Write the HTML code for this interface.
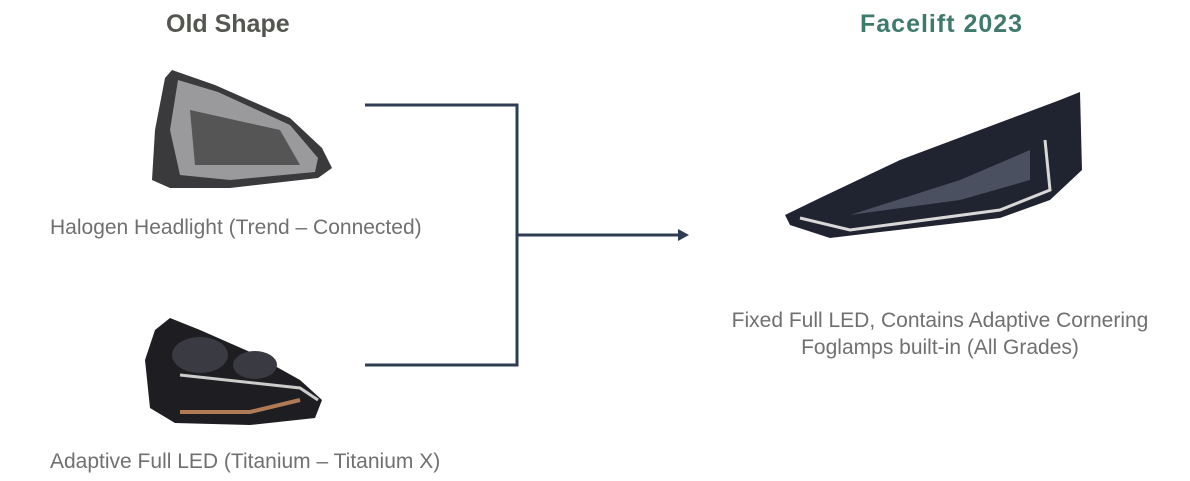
<!DOCTYPE html>
<html><head><style>
body{margin:0;width:1190px;height:481px;background:#fff;position:relative;overflow:hidden;font-family:"Liberation Sans",sans-serif}
.t{position:absolute;white-space:nowrap}
.h{font-weight:bold;font-size:25px}
.l{font-size:21px;color:#707070}
</style></head><body>
<div class="t h" style="left:166px;top:10px;color:#545750">Old Shape</div>
<div class="t h" style="left:860px;top:10px;color:#3f7a6c;letter-spacing:1px">Facelift 2023</div>
<div class="t l" style="left:50px;top:216px">Halogen Headlight (Trend – Connected)</div>
<div class="t l" style="left:50px;top:450px">Adaptive Full LED (Titanium – Titanium X)</div>
<div class="t l" style="left:720px;top:307px;text-align:center;width:440px;line-height:27px">Fixed Full LED, Contains Adaptive Cornering<br>Foglamps built-in (All Grades)</div>
<svg width="1190" height="481" style="position:absolute;left:0;top:0">
<g stroke="#2f3d52" stroke-width="3" fill="none">
<path d="M365 105H517V365H365"/>
<path d="M517 235H680"/>
</g>
<path d="M678 229L689 235L678 241Z" fill="#2f3d52"/>
<path d="M165 78L172 70L215 85L290 118L322 148L332 168L318 178L230 188L170 188L152 180L155 130Z" fill="#3a3a3c"/>
<path d="M178 80L218 92L290 125L318 158L315 172L230 180L180 175L170 130Z" fill="#9a9a9c"/>
<path d="M190 110L280 130L300 165L195 165Z" fill="#555"/>
<path d="M170 318L200 330L250 352L300 380L322 400L315 418L250 425L175 423L150 408L145 360L155 330Z" fill="#1d1d22"/>
<path d="M180 375L300 388L318 400" stroke="#ccc" stroke-width="3" fill="none"/>
<path d="M180 412L250 412L300 400" stroke="#b07a55" stroke-width="4" fill="none"/>
<ellipse cx="200" cy="355" rx="28" ry="18" fill="#3a3a42"/>
<ellipse cx="255" cy="365" rx="22" ry="14" fill="#3a3a42"/>
<path d="M785 215L820 198L900 160L980 130L1060 100L1080 92L1082 170L1050 200L1000 218L880 232L830 238L790 225Z" fill="#202431"/>
<path d="M800 218L850 230L1000 210L1050 190L1045 140" stroke="#d8d8d8" stroke-width="3" fill="none"/>
<path d="M850 215L960 180L1030 150L1030 180L960 200Z" fill="#4a5060"/>
</svg>
</body></html>
